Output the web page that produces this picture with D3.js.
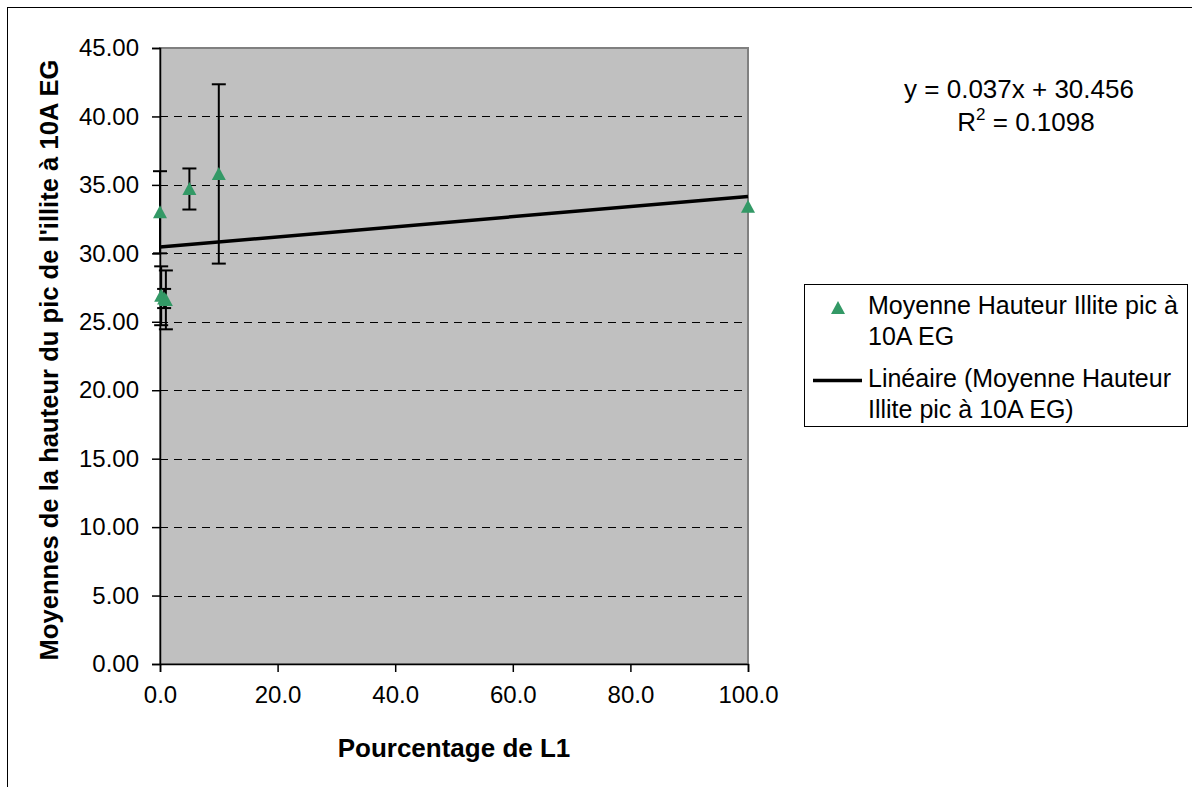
<!DOCTYPE html>
<html>
<head>
<meta charset="utf-8">
<script src="https://cdn.jsdelivr.net/npm/d3@7"></script>
<style>
    body { margin: 0; background: #fff; }
    svg { display: block; font-family: Arial, "Liberation Sans", sans-serif; }
</style>
</head>
<body>
<svg id="chart" width="1192" height="787"></svg>
<script>
'use strict';

// Data
var xValues = [0, 0.2, 0.7, 1, 5, 10, 100];
var yMeans = [33.0, 26.9, 26.7, 26.6, 34.7, 35.8, 33.4];
var yErrors = [3.0, 2.15, 0.7, 2.15, 1.5, 6.55, 0];

var xTicks = [0, 20, 40, 60, 80, 100];
var yTicks = [0, 5, 10, 15, 20, 25, 30, 35, 40, 45];

// Trend line as printed on the chart
var slope = 0.037;
var intercept = 30.456;
var rSquared = '0.1098';

var seriesName = ['Moyenne Hauteur Illite pic à', '10A EG'];
var trendName = ['Linéaire (Moyenne Hauteur', 'Illite pic à 10A EG)'];
var xTitle = 'Pourcentage de L1';
var yTitle = "Moyennes de la hauteur du pic de l'illite à 10A EG";

var points = xValues.map(function (x, i) {
    return {x: x, y: yMeans[i], err: yErrors[i]};
});

var svg = d3.select('#chart');

// outer frame
svg.append('rect')
    .attr('x', 7.5).attr('y', 7.5)
    .attr('width', 1200).attr('height', 800)
    .attr('fill', '#fff').attr('stroke', '#000');

var plot = {left: 160, right: 748, top: 48, bottom: 664};

var x = d3.scaleLinear().domain([0, 100]).range([plot.left, plot.right]);
var y = d3.scaleLinear().domain([0, 45]).range([plot.bottom, plot.top]);

// plot area
svg.append('rect')
    .attr('x', plot.left).attr('y', plot.top)
    .attr('width', plot.right - plot.left)
    .attr('height', plot.bottom - plot.top)
    .attr('fill', '#c0c0c0')
    .attr('stroke', '#808080')
    .attr('stroke-width', 2);

// gridlines
svg.append('g').selectAll('line')
    .data(yTicks.filter(function (d) { return d > 0 && d < 45; }))
    .enter().append('line')
    .attr('x1', plot.left).attr('x2', plot.right)
    .attr('y1', function (d) { return Math.round(y(d)) + 0.5; })
    .attr('y2', function (d) { return Math.round(y(d)) + 0.5; })
    .attr('stroke', '#000')
    .attr('stroke-dasharray', '8,6');

// axes
var yAxis = svg.append('g')
    .attr('transform', 'translate(' + plot.left + ',0)')
    .call(d3.axisLeft(y).tickValues(yTicks).tickSize(8).tickPadding(13)
        .tickFormat(d3.format('.2f')));

var xAxis = svg.append('g')
    .attr('transform', 'translate(0,' + plot.bottom + ')')
    .call(d3.axisBottom(x).tickValues(xTicks).tickSize(8).tickPadding(14)
        .tickFormat(d3.format('.1f')));

[xAxis, yAxis].forEach(function (g) {
    g.select('.domain').attr('stroke', '#000').attr('stroke-width', 1.5);
    g.selectAll('.tick line').attr('stroke', '#000').attr('stroke-width', 1.5);
    g.selectAll('.tick text')
        .attr('font-size', 24)
        .attr('font-family', 'Arial, "Liberation Sans", sans-serif')
        .attr('fill', '#000');
});

// error bars
var bars = svg.append('g').selectAll('g')
    .data(points.filter(function (d) { return d.err > 0; }))
    .enter().append('g')
    .attr('stroke', '#000')
    .attr('stroke-width', 2);

bars.append('line')
    .attr('x1', function (d) { return x(d.x); })
    .attr('x2', function (d) { return x(d.x); })
    .attr('y1', function (d) { return y(d.y + d.err); })
    .attr('y2', function (d) { return y(d.y - d.err); });

[1, -1].forEach(function (s) {
    bars.append('line')
        .attr('x1', function (d) { return x(d.x) - 7; })
        .attr('x2', function (d) { return x(d.x) + 7; })
        .attr('y1', function (d) { return y(d.y + s * d.err); })
        .attr('y2', function (d) { return y(d.y + s * d.err); });
});

// trend line
svg.append('line')
    .attr('x1', x(0)).attr('y1', y(intercept))
    .attr('x2', x(100)).attr('y2', y(intercept + slope * 100))
    .attr('stroke', '#000')
    .attr('stroke-width', 3.5);

// markers
var triangle = 'M0,-7L7,6L-7,6Z';

svg.append('g').selectAll('path')
    .data(points)
    .enter().append('path')
    .attr('d', triangle)
    .attr('transform', function (d) {
        return 'translate(' + x(d.x) + ',' + y(d.y) + ')';
    })
    .attr('fill', '#339966');

// axis titles
svg.append('text')
    .attr('x', 454).attr('y', 757)
    .attr('text-anchor', 'middle')
    .attr('font-size', 26).attr('font-weight', 'bold')
    .text(xTitle);

svg.append('text')
    .attr('transform', 'translate(58,360) rotate(-90)')
    .attr('text-anchor', 'middle')
    .attr('font-size', 25.6).attr('font-weight', 'bold')
    .text(yTitle);

// equation
svg.append('text')
    .attr('x', 1019).attr('y', 98)
    .attr('text-anchor', 'middle')
    .attr('font-size', 26)
    .text('y = ' + slope + 'x + ' + intercept);

var r2 = svg.append('text')
    .attr('x', 1026).attr('y', 131)
    .attr('text-anchor', 'middle')
    .attr('font-size', 26);
r2.append('tspan').text('R');
r2.append('tspan').attr('dy', -11).attr('font-size', 17).text('2');
r2.append('tspan').attr('dy', 11).text(' = ' + rSquared);

// legend
var legend = svg.append('g');

legend.append('rect')
    .attr('x', 804.5).attr('y', 284.5)
    .attr('width', 383).attr('height', 142)
    .attr('fill', '#fff')
    .attr('stroke', '#000');

legend.append('path')
    .attr('d', triangle)
    .attr('transform', 'translate(838,308)')
    .attr('fill', '#339966');

legend.append('line')
    .attr('x1', 813).attr('x2', 862)
    .attr('y1', 380.5).attr('y2', 380.5)
    .attr('stroke', '#000')
    .attr('stroke-width', 3.5);

var legendLines = seriesName.concat(trendName);
var baselines = [314, 345, 387, 418];

legend.selectAll('text.item')
    .data(legendLines)
    .enter().append('text')
    .attr('class', 'item')
    .attr('x', 868)
    .attr('y', function (d, i) { return baselines[i]; })
    .attr('font-size', 25)
    .text(function (d) { return d; });
</script>
</body>
</html>
